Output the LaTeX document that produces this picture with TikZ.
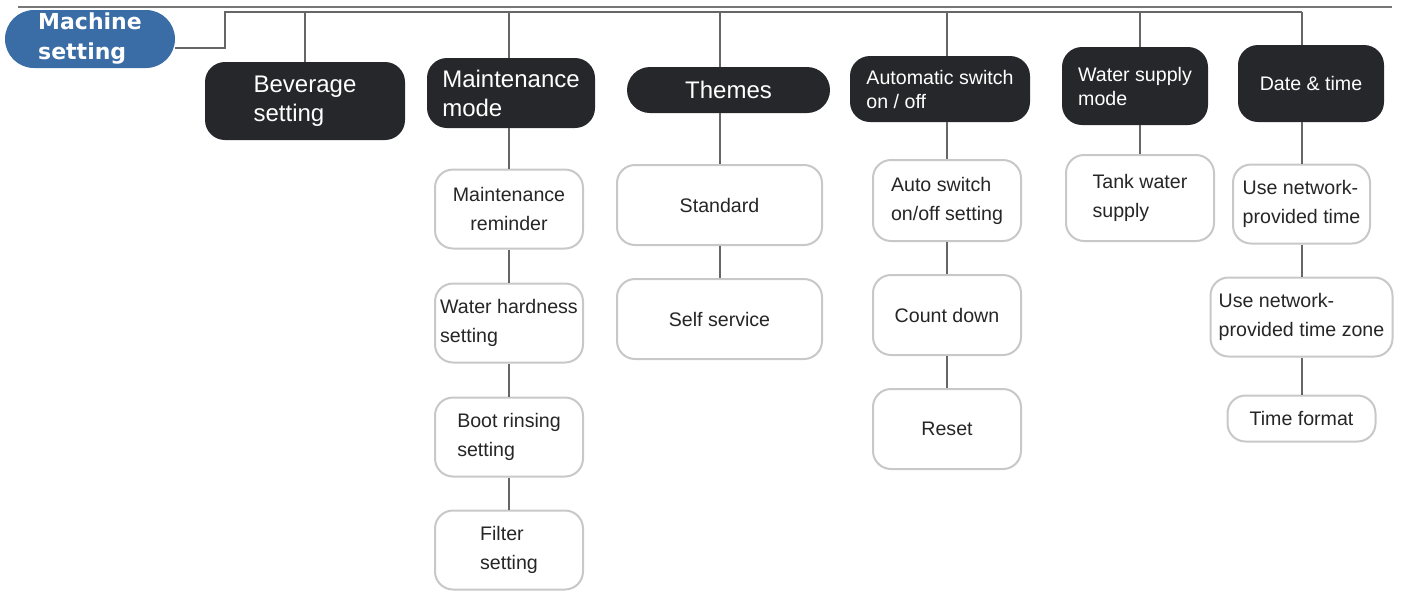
\documentclass[tikz,border=0pt]{standalone}
\usepackage{fontspec}
\setmainfont{Liberation Sans}
\newfontfamily\rootfont{DejaVu Sans}
\usetikzlibrary{positioning}

\definecolor{rootblue}{HTML}{3A6DA6}
\definecolor{headblack}{HTML}{25272A}
\definecolor{linegray}{HTML}{666666}
\definecolor{boxgray}{HTML}{C8C8C8}
\definecolor{rulegray}{HTML}{777777}

\tikzset{
  root/.style={fill=rootblue, text=white, rounded corners=14.5pt, align=left,
    inner sep=0pt, font=\rootfont\bfseries\fontsize{11}{15}\selectfont},
  menu/.style={fill=headblack, text=white, rounded corners=10pt, align=left,
    inner sep=0pt, font=\fontsize{12}{14.5}\selectfont},
  menusm/.style={menu, font=\fontsize{9.8}{12}\selectfont},
  item/.style={draw=boxgray, line width=1pt, fill=white, text=black!85,
    rounded corners=9pt, align=left, inner sep=0pt, minimum width=74pt,
    minimum height=39.5pt, font=\fontsize{9.8}{14.5}\selectfont},
  link/.style={draw=linegray, line width=1pt},
}

\begin{document}
\begin{tikzpicture}[x=0.5pt,y=-0.5pt]
  \useasboundingbox (0,0) rectangle (1409,591);
  \draw[rulegray, line width=0.6pt] (18,7) -- (1392,7);

  \node[root, minimum width=85pt, minimum height=29pt] (mach) at (90,39) {Machine\\setting};

  % top level menus
  \node[menu, minimum width=100pt, minimum height=39pt] (bev) at (305,101) {Beverage\\setting};
  \node[menu, minimum width=84pt, minimum height=35pt] (maint) at (511,93) {Maintenance\\mode};
  \node[menu, minimum width=101.5pt, minimum height=23pt, rounded corners=11.5pt] (themes) at (728.5,90) {Themes};
  \node[menusm, minimum width=90pt, minimum height=33pt] (auto) at (940,89) {Automatic switch\\on / off};
  \node[menusm, minimum width=73pt, minimum height=39pt] (water) at (1135,86) {Water supply\\mode};
  \node[menusm, minimum width=73pt, minimum height=38.5pt] (date) at (1311,83.5) {Date \& time};

  % items
  \node[item, align=center] (mrem) at (509,209) {Maintenance\\reminder};
  \node[item, below=16.5pt of mrem] (hard) {Water hardness\\setting};
  \node[item, below=16.5pt of hard] (rins) {Boot rinsing\\setting};
  \node[item, below=16pt of rins] (filt) {Filter\\setting};

  \node[item, minimum width=102.5pt, minimum height=40pt] (stand) at (719.5,205) {Standard};
  \node[item, minimum width=102.5pt, minimum height=40pt, below=16pt of stand] (self) {Self service};

  \node[item, minimum height=40.5pt] (aset) at (947,200.5) {Auto switch\\on/off setting};
  \node[item, minimum height=40pt, below=16pt of aset] (count) {Count down};
  \node[item, minimum height=40pt, below=16pt of count] (reset) {Reset};

  \node[item, minimum height=43pt] (tank) at (1140,198) {Tank water\\supply};

  \node[item, minimum width=68.5pt] (unet) at (1301.5,204) {Use network-\\provided time};
  \node[item, minimum width=91pt, below=16pt of unet] (uzone) {Use network-\\provided time zone};
  \node[item, minimum height=23pt, below=18.5pt of uzone] (tfmt) {Time format};

  % connectors
  \coordinate (bus) at (225,12);
  \draw[link] ([yshift=-4.5pt]mach.east) -| (bus) -- (bus -| unet.north);
  \draw[link] (bus -| bev.north) -- (bev.north);
  \foreach \h/\c in {maint/mrem, themes/stand, auto/aset, water/tank, date/unet}
    \draw[link] (bus -| \c.north) -- (\h.north -| \c.north);
  \foreach \a/\b in {maint/mrem, mrem/hard, hard/rins, rins/filt, themes/stand,
      stand/self, auto/aset, aset/count, count/reset, water/tank, date/unet,
      unet/uzone, uzone/tfmt}
    \draw[link] (\a.south -| \b.north) -- (\b.north);

\end{tikzpicture}
\end{document}
